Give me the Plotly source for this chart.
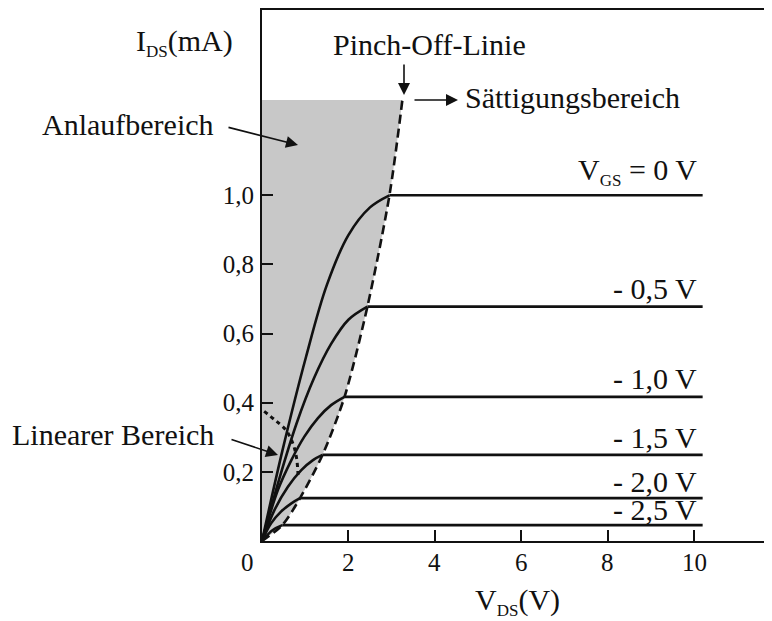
import plotly.graph_objects as go

# ---------------- data ----------------
vgs_labels = ["V<sub><span style='font-size:17px'>GS</span></sub> = 0 V",
              "- 0,5 V", "- 1,0 V", "- 1,5 V", "- 2,0 V", "- 2,5 V"]
i_sat = [1.0, 0.678, 0.417, 0.249, 0.124, 0.046]       # mA, saturation current
v_pinch = [2.95, 2.44, 1.91, 1.40, 0.88, 0.47]          # V, start of saturation
v_end = 10.2                                             # V, end of the drawn lines

# rising (ohmic) part of each characteristic
ohm_v_0 = [0, 0.47, 1.02, 1.5, 2.0, 2.5, 2.95]
ohm_i_0 = [0, 0.26, 0.533, 0.74, 0.885, 0.965, 1.0]
ohm_v_05 = [0, 0.4, 0.8, 1.2, 1.6, 2.0, 2.44]
ohm_i_05 = [0, 0.18, 0.34, 0.47, 0.57, 0.64, 0.678]
ohm_v_10 = [0, 0.37, 0.68, 0.98, 1.29, 1.6, 1.91]
ohm_i_10 = [0, 0.148, 0.234, 0.302, 0.355, 0.393, 0.417]
ohm_v_15 = [0, 0.29, 0.6, 0.91, 1.18, 1.40]
ohm_i_15 = [0, 0.09, 0.157, 0.205, 0.234, 0.249]
ohm_v_20 = [0, 0.21, 0.44, 0.68, 0.88]
ohm_i_20 = [0, 0.051, 0.085, 0.109, 0.124]
ohm_v_25 = [0, 0.25, 0.47]
ohm_i_25 = [0, 0.032, 0.046]
ohm_v = [ohm_v_0, ohm_v_05, ohm_v_10, ohm_v_15, ohm_v_20, ohm_v_25]
ohm_i = [ohm_i_0, ohm_i_05, ohm_i_10, ohm_i_15, ohm_i_20, ohm_i_25]

# pinch-off line (dashed) and boundary of the linear region (dotted)
pinch_v = [0, 0.47, 0.88, 1.40, 1.91, 2.44, 2.95, 3.25]
pinch_i = [0, 0.046, 0.124, 0.249, 0.417, 0.678, 1.0, 1.276]
lin_v = [0.05, 0.3, 0.56, 0.72, 0.8, 0.84]
lin_i = [0.375, 0.35, 0.32, 0.28, 0.24, 0.18]

x_tick_vals = [2, 4, 6, 8, 10]
x_tick_text = ["2", "4", "6", "8", "10"]
y_tick_vals = [0.2, 0.4, 0.6, 0.8, 1.0]
y_tick_text = ["0,2", "0,4", "0,6", "0,8", "1,0"]

# ---------------- layout geometry ----------------
PAGE_W, PAGE_H = 772, 621
OFF = 8                                # default body margin of the html page
W, H = PAGE_W - OFF, PAGE_H - OFF
PLOT_L, PLOT_T, PLOT_B = 262, 10, 541  # wanted plot-area edges in page pixels
ML = PLOT_L - OFF
MT = PLOT_T - OFF
MB = H - (PLOT_B - OFF)
MR = 0
PW, PH = W - ML - MR, H - MT - MB
X_PER_V = 43.2
Y_PER_MA = 345.7
FONT = "Liberation Serif, Times New Roman, serif"


def P(px, py):
    """page pixel position -> paper coordinates"""
    return (px - OFF - ML) / PW, (H - MB - (py - OFF)) / PH


fig = go.Figure()

# shaded region left of the pinch-off line
fig.add_trace(go.Scatter(
    x=pinch_v, y=pinch_i, mode="lines", fill="tozerox",
    fillcolor="#c8c8c8", line=dict(color="rgba(0,0,0,0)", width=0, shape="spline", smoothing=0.8),
    hoverinfo="skip", showlegend=False))

for k in range(len(i_sat)):
    fig.add_trace(go.Scatter(
        x=ohm_v[k], y=ohm_i[k], mode="lines",
        line=dict(color="#111111", width=2.6, shape="spline", smoothing=1.0),
        showlegend=False, hoverinfo="skip"))
    fig.add_trace(go.Scatter(
        x=[v_pinch[k], v_end], y=[i_sat[k], i_sat[k]], mode="lines",
        line=dict(color="#111111", width=2.6),
        showlegend=False, hoverinfo="skip"))

fig.add_trace(go.Scatter(
    x=pinch_v, y=pinch_i, mode="lines",
    line=dict(color="#111111", width=2.6, dash="9px,5px", shape="spline", smoothing=0.8),
    showlegend=False, hoverinfo="skip"))

fig.add_trace(go.Scatter(
    x=lin_v, y=lin_i, mode="lines",
    line=dict(color="#111111", width=3, dash="4px,4px", shape="spline"),
    showlegend=False, hoverinfo="skip"))

annotations = []


def text(s, px, py, size=30, anchor="left"):
    x, y = P(px, py)
    annotations.append(dict(text=s, x=x, y=y, xref="paper", yref="paper",
                            xanchor=anchor, yanchor="middle", showarrow=False,
                            font=dict(family=FONT, size=size, color="#111111")))


def arrow(tail, tip):
    x, y = P(*tip)
    annotations.append(dict(text="", x=x, y=y, xref="paper", yref="paper",
                            ax=tail[0] - tip[0], ay=tail[1] - tip[1],
                            showarrow=True, arrowhead=2, arrowsize=1.5,
                            arrowwidth=1.6, arrowcolor="#111111", standoff=0))


# curve labels (right-aligned above each saturation line)
label_mid_px = [172, 288, 379, 437, 481, 509]
for lab, ym in zip(vgs_labels, label_mid_px):
    text(lab, 699, ym, size=30, anchor="right")

# x tick labels placed under the axis from the tick arrays
_, y_lab = P(0, 562)
for v, t in zip(x_tick_vals, x_tick_text):
    annotations.append(dict(text=t, x=v, y=y_lab, xref="x", yref="paper",
                            xanchor="center", yanchor="middle", showarrow=False,
                            font=dict(family=FONT, size=25, color="#111111")))

SUB = "<sub><span style='font-size:17px'>DS</span></sub>"
text("I" + SUB + "(mA)", 134, 43)
text("Anlaufbereich", 40, 124)
arrow((227, 127), (298, 145))
text("Pinch-Off-Linie", 331, 44)
arrow((404, 63), (404, 95))
text("Sättigungsbereich", 463, 97)
arrow((413, 100), (458, 100))
text("Linearer Bereich", 10, 434)
arrow((230, 439), (278, 455))
text("V" + SUB + "(V)", 473, 601)
text("0", 247, 562, size=25, anchor="center")

fig.update_layout(
    width=W, height=H,
    margin=dict(l=ML, r=MR, t=MT, b=MB, pad=0),
    paper_bgcolor="white", plot_bgcolor="white",
    showlegend=False,
    annotations=annotations,
    xaxis=dict(range=[0, PW / X_PER_V], showgrid=False, zeroline=False, automargin=False,
               showline=True, linecolor="#111111", linewidth=2, mirror=True,
               ticks="inside", ticklen=11, tickwidth=2, tickcolor="#111111",
               tickvals=x_tick_vals, showticklabels=False),
    yaxis=dict(range=[0, PH / Y_PER_MA], showgrid=False, zeroline=False, automargin=False,
               showline=True, linecolor="#111111", linewidth=2,
               ticks="inside", ticklen=11, tickwidth=2, tickcolor="#111111",
               tickvals=y_tick_vals, ticktext=y_tick_text, ticklabelstandoff=1,
               tickfont=dict(family=FONT, size=25, color="#111111")),
)

fig.write_html("out.html")
